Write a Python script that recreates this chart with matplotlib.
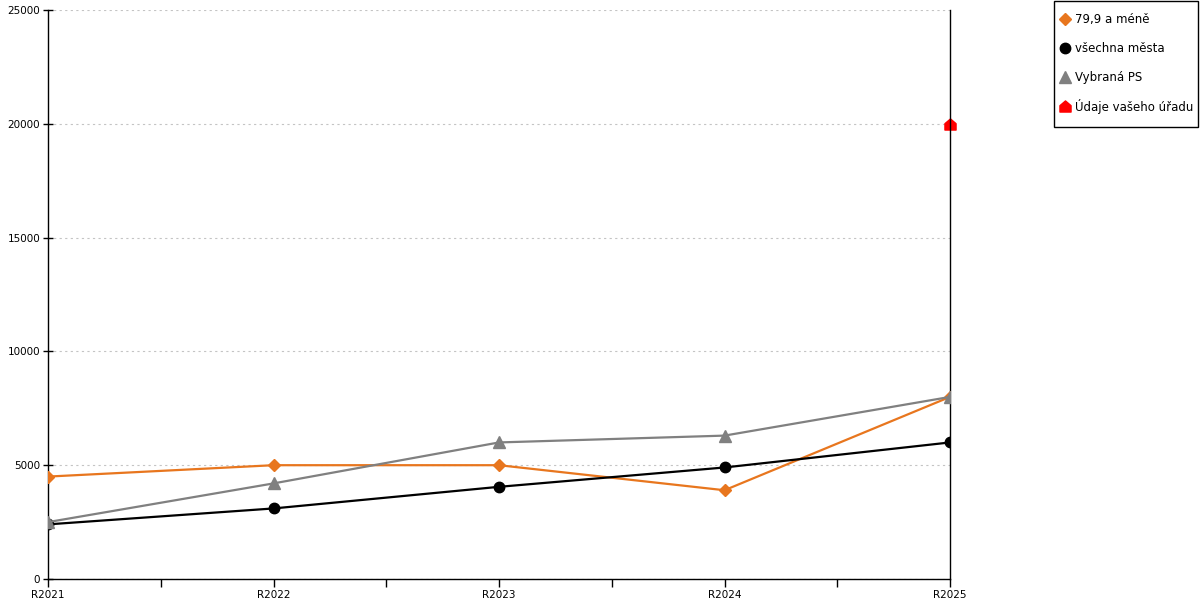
import matplotlib
matplotlib.use("Agg")
import matplotlib.pyplot as plt
from matplotlib.path import Path
from matplotlib.lines import Line2D
from matplotlib.patches import Rectangle

categories = ["R2021", "R2022", "R2023", "R2024", "R2025"]
small_towns = [4500, 5000, 5000, 3900, 8000]
all_towns = [2400, 3100, 4050, 4900, 6000]
selected_ps = [2500, 4200, 6000, 6300, 8000]
your_office = [None, None, None, None, 20000]

labels = ["79,9 a méně", "všechna města", "Vybraná PS", "Údaje vašeho úřadu"]
c_orange = "#E8761E"
c_black = "#000000"
c_grey = "#808080"
c_red = "#FF0000"

house = Path([(-1, -1), (1, -1), (1, 0.15), (0, 1), (-1, 0.15), (-1, -1)],
             [Path.MOVETO, Path.LINETO, Path.LINETO, Path.LINETO, Path.LINETO, Path.CLOSEPOLY])

plt.rcParams['font.family'] = ['DejaVu Sans']
W, H = 1200, 600
fig = plt.figure(figsize=(12, 6), dpi=100)
ax = fig.add_axes([48/W, 1 - 579/H, (950-48)/W, (579-10)/H])

styles = [
    dict(color=c_orange, marker="D", ms=6),
    dict(color=c_black, marker="o", ms=7.5),
    dict(color=c_grey, marker="^", ms=8),
    dict(color=c_red, marker=house, ms=8),
]

x = list(range(len(categories)))
ax.plot(x, small_towns, lw=1.6, zorder=3, **styles[0])
ax.plot(x, all_towns, lw=1.6, zorder=3, **styles[1])
ax.plot(x, selected_ps, lw=1.6, zorder=3, **styles[2])
xr = [i for i, v in zip(x, your_office) if v is not None]
yr = [v for v in your_office if v is not None]
ax.plot(xr, yr, lw=0, zorder=2, clip_on=False, **styles[3])

ax.set_xlim(0, len(categories) - 1)
ax.set_ylim(0, 25000)
ax.set_yticks(range(0, 25001, 5000))
ax.set_xticks(x)
ax.set_xticklabels(categories)
ax.set_xticks([i + 0.5 for i in x[:-1]], minor=True)
ax.tick_params(axis='x', which='both', direction='out', length=6, width=1, labelsize=7.5, pad=2)
ax.tick_params(axis='y', direction='inout', length=7, width=1, labelsize=7.5, pad=2)
ax.spines['top'].set_visible(False)
for s in ['left', 'right', 'bottom']:
    ax.spines[s].set_linewidth(1)
    ax.spines[s].set_color('black')
ax.yaxis.grid(True, linestyle=(0, (2, 3)), color="#C4C4C4", lw=0.8)
ax.set_axisbelow(True)

# legend box drawn in figure pixels
fig.add_artist(Rectangle((1053.5/W, 1 - 126.5/H), 144.5/W, 125.5/H, transform=fig.transFigure,
                         fill=True, facecolor="white", edgecolor="black", lw=1))
for i, (lab, st) in enumerate(zip(labels, styles)):
    yy = 1 - (19 + 29 * i) / H
    fig.add_artist(Line2D([1065/W], [yy], transform=fig.transFigure, lw=0, **st))
    fig.text(1075/W, yy, lab, va="center", ha="left", fontsize=8.5)

fig.savefig("out.png", dpi=100)
